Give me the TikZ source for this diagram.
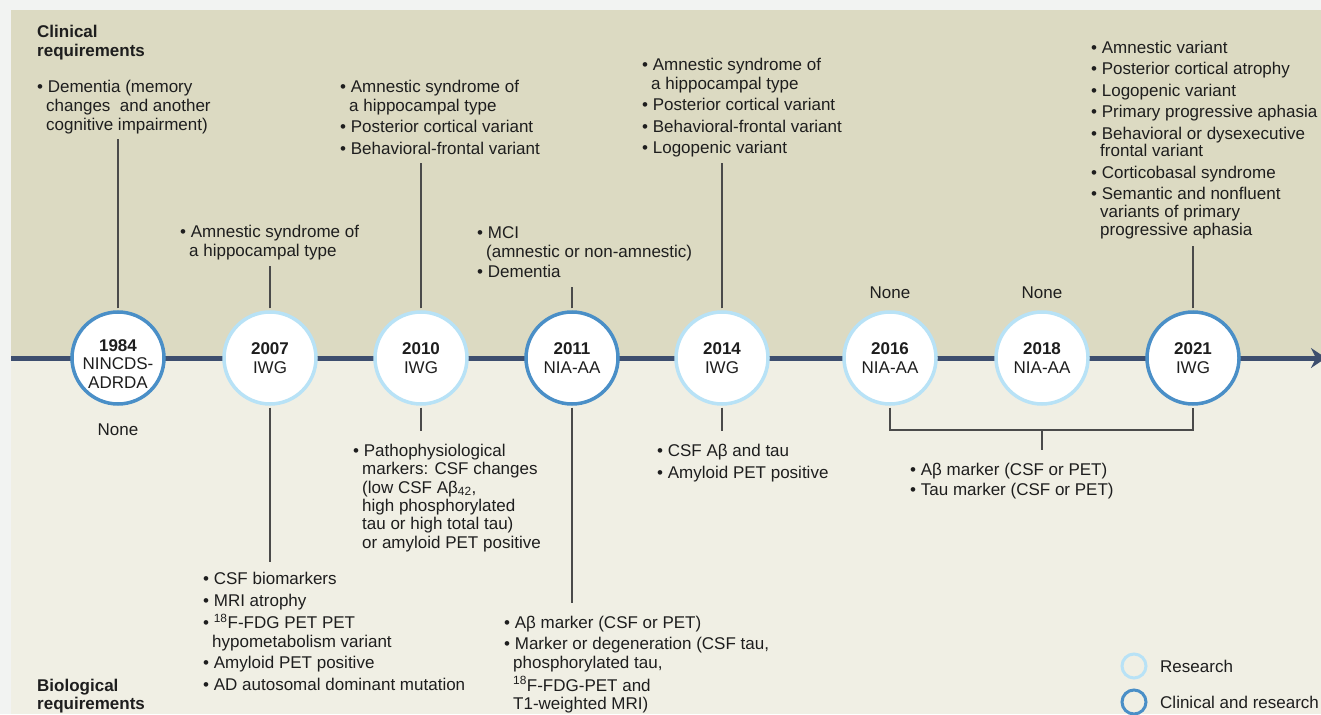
\documentclass[tikz,border=0pt]{standalone}
\usepackage{fontspec}
\setmainfont{Liberation Sans}
\usetikzlibrary{arrows.meta}
\definecolor{outerbg}{HTML}{F2F3F2}
\definecolor{tanbg}{HTML}{DCDAC2}
\definecolor{lowbg}{HTML}{F0EFE4}
\definecolor{axisc}{HTML}{3D4E6E}
\definecolor{lightc}{HTML}{B8E2F6}
\definecolor{darkc}{HTML}{4A8FC7}
\definecolor{connc}{HTML}{4A4A4A}
\definecolor{txt}{HTML}{1E1E1E}
\newcommand\fs{\fontsize{17}{19}\selectfont}
\newcommand\ind{\hspace*{9pt}}
\newcommand\bu{•\ }
\newcommand\fst{\rule{0pt}{13pt}}
\begin{document}
\begin{tikzpicture}[x=1pt,y=-1pt,
  evt/.style={circle, fill=white, minimum size=92pt, inner sep=0pt, line width=3.5pt},
  res/.style={evt, draw=lightc},
  clin/.style={evt, draw=darkc},
  ctext/.style={align=center, font=\fontsize{17}{18.5}\selectfont, text=txt, inner sep=0pt},
  blk/.style={anchor=north west, align=left, inner sep=0pt, font=\fs, text=txt},
  head/.style={blk, font=\fs\bfseries},
  nonetxt/.style={anchor=base, inner sep=0pt, font=\fs, text=txt},
  conn/.style={draw=connc, line width=1.2pt},
  lg/.style={circle, minimum size=24pt, inner sep=0pt, line width=3pt}
]
\useasboundingbox (0,0) rectangle (1321,714);
\fill[outerbg] (0,0) rectangle (1321,714);
\fill[tanbg] (11,10) rectangle (1321,358);
\fill[lowbg] (11,358) rectangle (1321,714);

% axis
\coordinate (axs) at (11,358);
\coordinate (axe) at (1326,358);
\draw[axisc, line width=5pt, -{Stealth[length=15pt, width=20pt, inset=5pt]}] (axs) -- (axe);

% free ends of connectors
\coordinate (u84) at (118,139);
\coordinate (u07) at (270,266);
\coordinate (d07) at (270,562);
\coordinate (u10) at (421,163);
\coordinate (d10) at (421,431);
\coordinate (u11) at (572,287);
\coordinate (d11) at (572,603);
\coordinate (u14) at (722,163);
\coordinate (d14) at (722,431);
\coordinate (u21) at (1193,246);
\coordinate (bm) at (1042,430);
\coordinate (bmt) at (1042,450);

% circles
\node[clin] (c84) at (118,358) {};
\node[res] (c07) at (270,358) {};
\node[res] (c10) at (421,358) {};
\node[clin] (c11) at (572,358) {};
\node[res] (c14) at (722,358) {};
\node[res] (c16) at (890,358) {};
\node[res] (c18) at (1042,358) {};
\node[clin] (c21) at (1193,358) {};

\node[ctext] (t84) at ([yshift=-6pt]c84.center) {\textbf{1984}\\NINCDS-\\ADRDA};
\node[ctext] (t07) at (c07.center) {\textbf{2007}\\IWG};
\node[ctext] (t10) at (c10.center) {\textbf{2010}\\IWG};
\node[ctext] (t11) at (c11.center) {\textbf{2011}\\NIA-AA};
\node[ctext] (t14) at (c14.center) {\textbf{2014}\\IWG};
\node[ctext] (t16) at (c16.center) {\textbf{2016}\\NIA-AA};
\node[ctext] (t18) at (c18.center) {\textbf{2018}\\NIA-AA};
\node[ctext] (t21) at (c21.center) {\textbf{2021}\\IWG};

% connectors
\draw[conn, shorten <=1.8pt] (c84.north) -- (u84);
\draw[conn, shorten <=1.8pt] (c07.north) -- (u07);
\draw[conn, shorten <=1.8pt] (c07.south) -- (d07);
\draw[conn, shorten <=1.8pt] (c10.north) -- (u10);
\draw[conn, shorten <=1.8pt] (c10.south) -- (d10);
\draw[conn, shorten <=1.8pt] (c11.north) -- (u11);
\draw[conn, shorten <=1.8pt] (c11.south) -- (d11);
\draw[conn, shorten <=1.8pt] (c14.north) -- (u14);
\draw[conn, shorten <=1.8pt] (c14.south) -- (d14);
\draw[conn, shorten <=1.8pt] (c21.north) -- (u21);
\draw[conn, shorten <=1.8pt, shorten >=1.8pt] (c16.south) -- (c16.south |- bm) -- (c21.south |- bm) -- (c21.south);
\draw[conn] (bm) -- (bmt);

% headings
\node[head] (hclin) at (37,24.5) {\fst Clinical\\requirements};
\node[head] (hbio) at (37,678.5) {\fst Biological\\[-1.5pt]requirements};

% clinical texts
\node[blk] (k84) at (37,79) {\fst\bu Dementia (memory\\\ind changes \ and another\\\ind cognitive impairment)};
\node[blk] (k07) at (180,224) {\fst\bu Amnestic syndrome of\\\ind a hippocampal type};
\node[blk] (k10) at (340,79) {\fst\bu Amnestic syndrome of\\\ind a hippocampal type\\[2.5pt]\bu Posterior cortical variant\\[2.5pt]\bu Behavioral-frontal variant};
\node[blk] (k11) at (477,225) {\fst\bu MCI\\\ind (amnestic or non-amnestic)\\[1pt]\bu Dementia};
\node[blk] (k14) at (642,57) {\fst\bu Amnestic syndrome of\\\ind a hippocampal type\\[2.5pt]\bu Posterior cortical variant\\[2.5pt]\bu Behavioral-frontal variant\\[2.5pt]\bu Logopenic variant};
\node[blk] (k21) at (1091,40) {\fst\bu Amnestic variant\\[2.5pt]\bu Posterior cortical atrophy\\[2.5pt]\bu Logopenic variant\\[2.5pt]\bu Primary progressive aphasia\\[2.5pt]\bu Behavioral or dysexecutive\\[-1.5pt]\ind frontal variant\\[2.5pt]\bu Corticobasal syndrome\\[2.5pt]\bu Semantic and nonfluent\\[-1pt]\ind variants of primary\\[-1.5pt]\ind progressive aphasia};
\node[nonetxt] (n16) at (890,298) {None};
\node[nonetxt] (n18) at (1042,298) {None};

% biological texts
\node[nonetxt] (n84) at (118,435) {None};
\node[blk] (b07) at (203,571) {\fst\bu CSF biomarkers\\[3pt]\bu MRI atrophy\\[3.5pt]\bu \textsuperscript{18}F-FDG PET PET\\\ind hypometabolism variant\\[2pt]\bu Amyloid PET positive\\[3pt]\bu AD autosomal dominant mutation};
\node[blk, font=\fontsize{17}{18.4}\selectfont] (b10) at (353,443) {\fst\bu Pathophysiological\\\ind markers: CSF changes\\\ind (low CSF Aβ\textsubscript{42},\\\ind high phosphorylated\\\ind tau or high total tau)\\\ind or amyloid PET positive};
\node[blk] (b11) at (504,615) {\fst\bu Aβ marker (CSF or PET)\\[2pt]\bu Marker or degeneration (CSF tau,\\\ind phosphorylated tau,\\[4pt]\ind \textsuperscript{18}F-FDG-PET and\\[-1pt]\ind T1-weighted MRI)};
\node[blk] (b14) at (657,443) {\fst\bu CSF Aβ and tau\\[3pt]\bu Amyloid PET positive};
\node[blk] (b16) at (910,462) {\fst\bu Aβ marker (CSF or PET)\\[1pt]\bu Tau marker (CSF or PET)};

% legend
\node[lg, draw=lightc] (lg1) at (1134,666) {};
\node[lg, draw=darkc] (lg2) at (1134,702) {};
\node[anchor=base west, inner sep=0pt, font=\fs, text=txt] (lt1) at (1160,672) {Research};
\node[anchor=base west, inner sep=0pt, font=\fs, text=txt] (lt2) at (1160,708) {Clinical and research};
\end{tikzpicture}
\end{document}
